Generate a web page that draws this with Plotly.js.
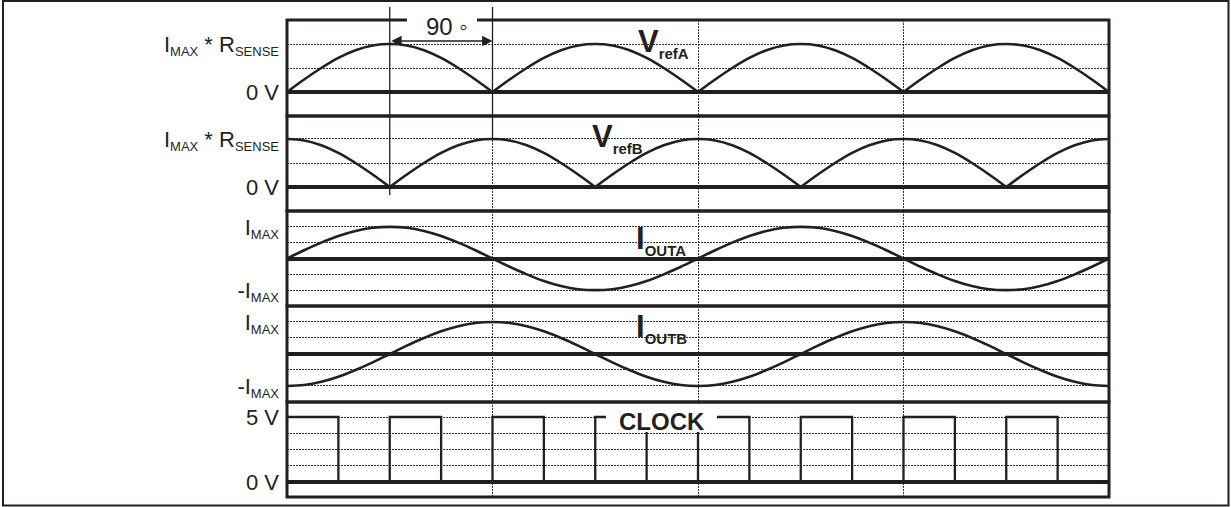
<!DOCTYPE html>
<html>
<head>
<meta charset="utf-8">
<script src="https://cdn.plot.ly/plotly-3.0.1.min.js"></script>
<style>
  html, body { margin: 0; padding: 0; background: #ffffff; }
  #chart { width: 1231px; height: 507px; }
</style>
</head>
<body>
<div id="chart"></div>
<script>
// Electrical angle of the stepper drive, degrees (one sample every 15 deg)
const angleDeg = [0, 15, 30, 45, 60, 75, 90, 105, 120, 135, 150, 165,
  180, 195, 210, 225, 240, 255, 270, 285, 300, 315, 330, 345,
  360, 375, 390, 405, 420, 435, 450, 465, 480, 495, 510, 525,
  540, 555, 570, 585, 600, 615, 630, 645, 660, 675, 690, 705, 720];

// Reference voltages, in units of IMAX * RSENSE
const vrefA = [0, 0.26, 0.5, 0.71, 0.87, 0.97, 1, 0.97, 0.87, 0.71, 0.5, 0.26,
  0, 0.26, 0.5, 0.71, 0.87, 0.97, 1, 0.97, 0.87, 0.71, 0.5, 0.26,
  0, 0.26, 0.5, 0.71, 0.87, 0.97, 1, 0.97, 0.87, 0.71, 0.5, 0.26,
  0, 0.26, 0.5, 0.71, 0.87, 0.97, 1, 0.97, 0.87, 0.71, 0.5, 0.26, 0];
const vrefB = [1, 0.97, 0.87, 0.71, 0.5, 0.26, 0, 0.26, 0.5, 0.71, 0.87, 0.97,
  1, 0.97, 0.87, 0.71, 0.5, 0.26, 0, 0.26, 0.5, 0.71, 0.87, 0.97,
  1, 0.97, 0.87, 0.71, 0.5, 0.26, 0, 0.26, 0.5, 0.71, 0.87, 0.97,
  1, 0.97, 0.87, 0.71, 0.5, 0.26, 0, 0.26, 0.5, 0.71, 0.87, 0.97, 1];

// Winding currents, in units of IMAX
const ioutA = [0, 0.26, 0.5, 0.71, 0.87, 0.97, 1, 0.97, 0.87, 0.71, 0.5, 0.26,
  0, -0.26, -0.5, -0.71, -0.87, -0.97, -1, -0.97, -0.87, -0.71, -0.5, -0.26,
  0, 0.26, 0.5, 0.71, 0.87, 0.97, 1, 0.97, 0.87, 0.71, 0.5, 0.26,
  0, -0.26, -0.5, -0.71, -0.87, -0.97, -1, -0.97, -0.87, -0.71, -0.5, -0.26, 0];
const ioutB = [-1, -0.97, -0.87, -0.71, -0.5, -0.26, 0, 0.26, 0.5, 0.71, 0.87, 0.97,
  1, 0.97, 0.87, 0.71, 0.5, 0.26, 0, -0.26, -0.5, -0.71, -0.87, -0.97,
  -1, -0.97, -0.87, -0.71, -0.5, -0.26, 0, 0.26, 0.5, 0.71, 0.87, 0.97,
  1, 0.97, 0.87, 0.71, 0.5, 0.26, 0, -0.26, -0.5, -0.71, -0.87, -0.97, -1];

// Step clock: level (V) held from each edge angle to the next
const clockEdgeDeg = [0, 45, 90, 135, 180, 225, 270, 315, 360, 405, 450, 495, 540, 585, 630, 675, 720];
const clockLevel   = [5, 0, 5, 0, 5, 0, 5, 0, 5, 0, 5, 0, 5, 0, 5, 0, 0];

// Axis ticks: labelled levels, plus the unlabelled dotted grid levels
const S = t => '<sub><span style="font-size:13px">' + t + '</span></sub>';
const vrefTicks = [0, 1];
const vrefTickText = ['0 V', 'I' + S('MAX') + ' * R' + S('SENSE')];
const vrefGrid = [0.5];
const ioutTicks = [-1, 1];
const ioutTickText = ['-I' + S('MAX'), 'I' + S('MAX')];
const ioutGrid = [-0.5, 0.5];
const clockTicks = [0, 5];
const clockTickText = ['0 V', '5 V'];
const clockGrid = [1.25, 2.5, 3.75];
const angleGrid = [180, 360, 540];

// Signal names
const nameTag = t => '<sub><span style="font-size:15px">' + t + '</span></sub>';
const signalNames = ['<b>V' + nameTag('refA') + '</b>', '<b>V' + nameTag('refB') + '</b>',
  '<b>I' + nameTag('OUTA') + '</b>', '<b>I' + nameTag('OUTB') + '</b>'];
const clockName = '<b>CLOCK</b>';
const phaseLabel = '90 \u25E6';

const INK = '#231f20';
const GRID = '#333333';
const DOTS = '2px,1px';
const FONT = 'Liberation Sans, Arial, Helvetica, sans-serif';

// Insert a break after every interior zero so each rectified half-wave keeps a sharp cusp
function halfWaves(xs, ys) {
  const X = [], Y = [];
  ys.forEach((v, i) => {
    X.push(xs[i]); Y.push(v);
    if (v === 0 && i > 0 && i < ys.length - 1) { X.push(null, xs[i]); Y.push(null, v); }
  });
  return { X, Y };
}

const a = halfWaves(angleDeg, vrefA);
const b = halfWaves(angleDeg, vrefB);
const curve = { color: INK, width: 2.6, shape: 'spline', smoothing: 1 };

const traces = [
  { x: a.X, y: a.Y, xaxis: 'x', yaxis: 'y', mode: 'lines', line: curve, connectgaps: false, hoverinfo: 'skip' },
  { x: b.X, y: b.Y, xaxis: 'x', yaxis: 'y2', mode: 'lines', line: curve, connectgaps: false, hoverinfo: 'skip' },
  { x: angleDeg, y: ioutA, xaxis: 'x', yaxis: 'y3', mode: 'lines', line: curve, hoverinfo: 'skip' },
  { x: angleDeg, y: ioutB, xaxis: 'x', yaxis: 'y4', mode: 'lines', line: curve, hoverinfo: 'skip' },
  { x: clockEdgeDeg, y: clockLevel, xaxis: 'x', yaxis: 'y5', mode: 'lines',
    line: { color: INK, width: 2.3, shape: 'hv' }, hoverinfo: 'skip' }
];

// Row layout: domains (paper fraction) and value ranges
const rows = [
  { domain: [0.79874, 1],       range: [-0.5, 1.5],     ticks: vrefTicks,  text: vrefTickText,  grid: vrefGrid },
  { domain: [0.59958, 0.79874], range: [-0.5, 1.479],   ticks: vrefTicks,  text: vrefTickText,  grid: vrefGrid },
  { domain: [0.40042, 0.59958], range: [-1.5, 1.5],     ticks: ioutTicks,  text: ioutTickText,  grid: ioutGrid },
  { domain: [0.19916, 0.40042], range: [-1.5, 1.5],     ticks: ioutTicks,  text: ioutTickText,  grid: ioutGrid },
  { domain: [0, 0.19916],       range: [-1.154, 6.154], ticks: clockTicks, text: clockTickText, grid: clockGrid }
];

const layout = {
  width: 1231, height: 507,
  margin: { l: 287, r: 122, t: 20, b: 10, pad: 0 },
  paper_bgcolor: '#ffffff', plot_bgcolor: '#ffffff',
  showlegend: false,
  font: { family: FONT, color: INK },
  xaxis: {
    domain: [0, 1], range: [0, 720], anchor: 'y5',
    tickmode: 'array', tickvals: angleGrid, showticklabels: false, ticks: '',
    showgrid: true, gridcolor: GRID, gridwidth: 1, griddash: DOTS,
    zeroline: false, showline: false, fixedrange: true
  },
  shapes: [],
  annotations: []
};

rows.forEach((r, i) => {
  const key = i === 0 ? 'yaxis' : 'yaxis' + (i + 1);
  const yid = i === 0 ? 'y' : 'y' + (i + 1);
  layout[key] = {
    domain: r.domain, range: r.range, anchor: 'x',
    tickmode: 'array', tickvals: r.ticks, ticktext: r.text, ticks: '',
    ticklabelstandoff: 7,
    tickfont: { family: FONT, size: 22, color: INK },
    showgrid: true, gridcolor: GRID, gridwidth: 1, griddash: DOTS,
    minor: { tickmode: 'array', tickvals: r.grid, ticks: '', showgrid: true,
             gridcolor: GRID, gridwidth: 1, griddash: DOTS },
    zeroline: true, zerolinecolor: INK, zerolinewidth: 4,
    showline: false, fixedrange: true
  };
  // frame of the row
  layout.shapes.push({
    type: 'rect', xref: 'x domain', yref: yid + ' domain',
    x0: 0, x1: 1, y0: 0, y1: 1,
    line: { color: INK, width: 3 }, fillcolor: 'rgba(0,0,0,0)', layer: 'above'
  });
});

// outer border of the figure
layout.shapes.push({
  type: 'rect', xref: 'paper', yref: 'paper',
  x0: -0.3455, x1: 1.14538, y0: -0.01782, y1: 1.03983,
  line: { color: INK, width: 2 }, fillcolor: 'rgba(0,0,0,0)', layer: 'above'
});
// 90 degree markers
layout.shapes.push({
  type: 'line', xref: 'x', yref: 'paper', x0: 90, x1: 90, y0: 0.6331, y1: 1.0273,
  line: { color: INK, width: 1.3 }, layer: 'above'
});
layout.shapes.push({
  type: 'line', xref: 'x', yref: 'paper', x0: 180, x1: 180, y0: 0.7484, y1: 1.0273,
  line: { color: INK, width: 1.3 }, layer: 'above'
});
// gap in the top frame behind the 90 degree label
layout.shapes.push({
  type: 'rect', xref: 'x', yref: 'paper', x0: 105.1, x1: 166.4, y0: 0.9916, y1: 1.0063,
  line: { width: 0 }, fillcolor: '#ffffff', layer: 'above'
});
// gap behind the clock label
layout.shapes.push({
  type: 'rect', xref: 'x', yref: 'y5', x0: 279.4, x1: 376.6, y0: 3.846, y1: 5.923,
  line: { width: 0 }, fillcolor: '#ffffff', layer: 'above'
});

const nameFont = { family: FONT, size: 31, color: INK };
layout.annotations = [
  { xref: 'x', yref: 'y', x: 306.1, y: 1.026, xanchor: 'left', yanchor: 'middle',
    text: signalNames[0], showarrow: false, font: nameFont },
  { xref: 'x', yref: 'y2', x: 265.8, y: 1.026, xanchor: 'left', yanchor: 'middle',
    text: signalNames[1], showarrow: false, font: nameFont },
  { xref: 'x', yref: 'y3', x: 304, y: 0.587, xanchor: 'left', yanchor: 'middle',
    text: signalNames[2], showarrow: false, font: nameFont },
  { xref: 'x', yref: 'y4', x: 304, y: 0.816, xanchor: 'left', yanchor: 'middle',
    text: signalNames[3], showarrow: false, font: nameFont },
  { xref: 'x', yref: 'y5', x: 328.9, y: 4.638, xanchor: 'center', yanchor: 'middle',
    text: clockName, showarrow: false, font: { family: FONT, size: 24, color: INK } },
  { xref: 'x', yref: 'y', x: 140.2, y: 1.36, xanchor: 'center', yanchor: 'middle',
    text: phaseLabel, showarrow: false, font: { family: FONT, size: 24, color: INK } },
  { xref: 'x', yref: 'y', x: 180, y: 1.0625, axref: 'x', ayref: 'y', ax: 90, ay: 1.0625,
    text: '', showarrow: true, arrowside: 'end+start', arrowhead: 2, startarrowhead: 2,
    arrowsize: 1.6, startarrowsize: 1.6, arrowwidth: 1.3, arrowcolor: INK, standoff: 0, startstandoff: 0 }
];

Plotly.newPlot('chart', traces, layout, { staticPlot: true, displayModeBar: false });
</script>
</body>
</html>
